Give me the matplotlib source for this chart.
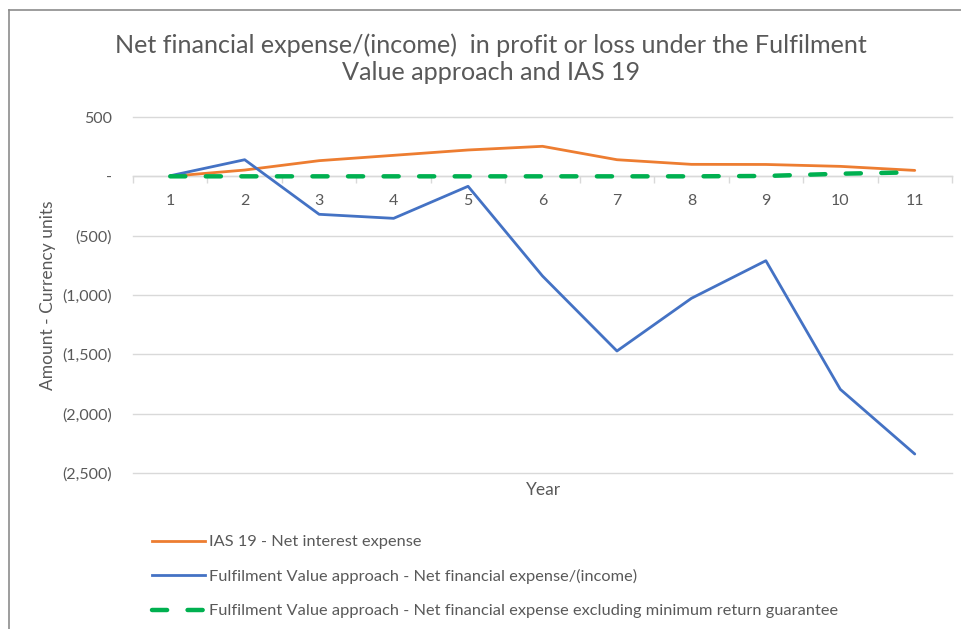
import matplotlib
matplotlib.use("Agg")
import matplotlib.pyplot as plt
from matplotlib.lines import Line2D
from matplotlib.ticker import FixedLocator, FuncFormatter

years = ["1", "2", "3", "4", "5", "6", "7", "8", "9", "10", "11"]
ias19 = [0, 53, 132, 177, 222, 253, 140, 101, 100, 84, 50]
fva_net = [5, 140, -320, -354, -84, -840, -1472, -1028, -711, -1795, -2340]
fva_excl = [0, 0, 0, 0, 0, 0, 0, 0, 3, 22, 34]
y_ticks = [500, 0, -500, -1000, -1500, -2000, -2500]

title = "Net financial expense/(income)  in profit or loss under the Fulfilment\nValue approach and IAS 19"
labels = ["IAS 19 - Net interest expense",
          "Fulfilment Value approach - Net financial expense/(income)",
          "Fulfilment Value approach - Net financial expense excluding minimum return guarantee"]

plt.rcParams['font.family'] = ['Lato', 'DejaVu Sans']
TXT = "#595959"
GRID = "#D9D9D9"

W, H = 961, 629
fig = plt.figure(figsize=(W / 100, H / 100), dpi=100)
ax = fig.add_axes([133 / W, 1 - 473 / H, (952 - 133) / W, (473 - 117) / H])

x = list(range(len(years)))
ax.plot(x, ias19, color="#ED7D31", lw=2.0, solid_capstyle="round", zorder=3)
ax.plot(x, fva_net, color="#4472C4", lw=2.0, solid_capstyle="round", zorder=3)
ax.plot(x, fva_excl, color="#00B050", lw=3.2, linestyle=(0, (3.4, 4.6)),
        dash_capstyle="round", zorder=4)

ax.set_xlim(-0.5, len(years) - 0.5)
ax.set_ylim(-2500, 500)

for s in ["top", "right", "left"]:
    ax.spines[s].set_visible(False)
ax.spines["bottom"].set_position(("data", 0))
ax.spines["bottom"].set_color(GRID)
ax.spines["bottom"].set_linewidth(1.0)

ax.set_xticks(x)
ax.set_xticklabels(years)
ax.xaxis.set_minor_locator(FixedLocator([i - 0.5 for i in range(len(years) + 1)]))
ax.tick_params(axis="x", which="major", length=0, pad=13, labelsize=11.5, labelcolor=TXT)
ax.tick_params(axis="x", which="minor", length=5, color=GRID, width=1.0)

def fmt(v, pos):
    if v == 0:
        return "-"
    if v < 0:
        return "({:,.0f})".format(-v)
    return "{:,.0f}".format(v)

ax.set_yticks(y_ticks)
ax.yaxis.set_major_formatter(FuncFormatter(fmt))
ax.tick_params(axis="y", length=0, pad=15, labelsize=11.5, labelcolor=TXT)
ax.yaxis.grid(True, color=GRID, lw=1.0)
for gl in ax.get_ygridlines():
    gl.set_clip_on(False)
ax.set_axisbelow(True)

fig.text(48 / W, 1 - 295 / H, "Amount - Currency units", rotation=90, ha="center",
         va="center", fontsize=12.5, color=TXT)
fig.text(543 / W, 1 - 490 / H, "Year", ha="center", va="center", fontsize=12.5, color=TXT)
fig.text(491 / W, 1 - 59 / H, title, ha="center", va="center", fontsize=18.1, color=TXT,
         linespacing=1.2)

handles = [Line2D([], [], color="#ED7D31", lw=2.0),
           Line2D([], [], color="#4472C4", lw=2.0),
           Line2D([], [], color="#00B050", lw=3.2, linestyle=(0, (3.4, 4.6)), dash_capstyle="round")]
leg = fig.legend(handles, labels, loc="upper left", bbox_to_anchor=(152 / W, 1 - 535 / H),
                 frameon=False, fontsize=11.8, handlelength=3.25, handletextpad=0.25,
                 labelspacing=1.2, borderpad=0, borderaxespad=0)
for t in leg.get_texts():
    t.set_color(TXT)

# chart border (left and top edges)
fig.add_artist(Line2D([9 / W, 9 / W], [0, 1 - 10 / H], color="#8C8C8C", lw=1.2,
                      transform=fig.transFigure))
fig.add_artist(Line2D([9 / W, 1], [1 - 10 / H, 1 - 10 / H], color="#8C8C8C", lw=1.2,
                      transform=fig.transFigure))

fig.savefig("out.png", dpi=100, facecolor="white")
